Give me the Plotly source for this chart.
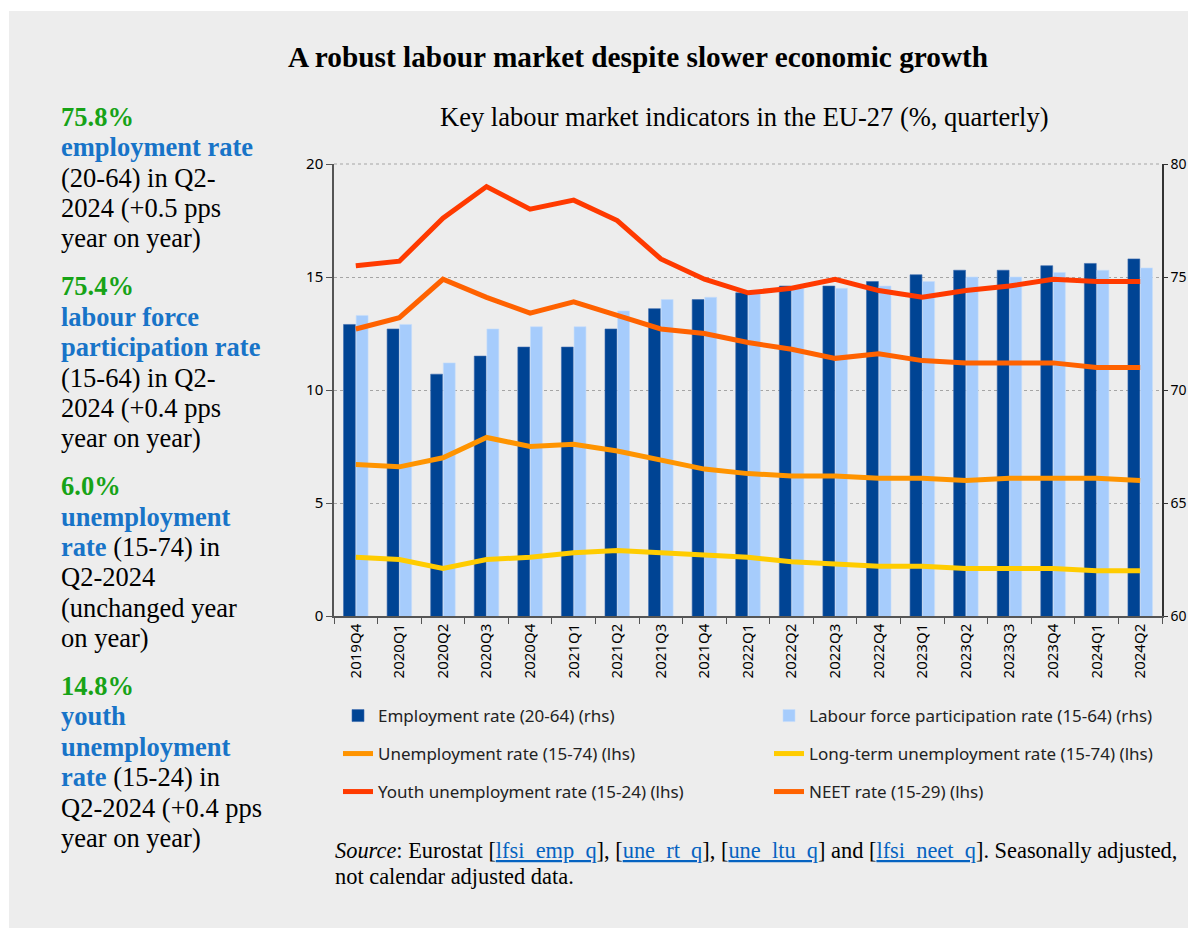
import plotly.graph_objects as go

quarters = ["2019Q4", "2020Q1", "2020Q2", "2020Q3", "2020Q4", "2021Q1", "2021Q2", "2021Q3",
            "2021Q4", "2022Q1", "2022Q2", "2022Q3", "2022Q4", "2023Q1", "2023Q2", "2023Q3",
            "2023Q4", "2024Q1", "2024Q2"]
employment = [72.9, 72.7, 70.7, 71.5, 71.9, 71.9, 72.7, 73.6, 74.0, 74.3, 74.6, 74.6, 74.8,
              75.1, 75.3, 75.3, 75.5, 75.6, 75.8]
participation = [73.3, 72.9, 71.2, 72.7, 72.8, 72.8, 73.5, 74.0, 74.1, 74.3, 74.5, 74.5, 74.6,
                 74.8, 75.0, 75.0, 75.2, 75.3, 75.4]
unemployment = [6.7, 6.6, 7.0, 7.9, 7.5, 7.6, 7.3, 6.9, 6.5, 6.3, 6.2, 6.2, 6.1, 6.1, 6.0, 6.1,
                6.1, 6.1, 6.0]
long_term = [2.6, 2.5, 2.1, 2.5, 2.6, 2.8, 2.9, 2.8, 2.7, 2.6, 2.4, 2.3, 2.2, 2.2, 2.1, 2.1,
             2.1, 2.0, 2.0]
youth = [15.5, 15.7, 17.6, 19.0, 18.0, 18.4, 17.5, 15.8, 14.9, 14.3, 14.5, 14.9, 14.4, 14.1,
         14.4, 14.6, 14.9, 14.8, 14.8]
neet = [12.7, 13.2, 14.9, 14.1, 13.4, 13.9, 13.3, 12.7, 12.5, 12.1, 11.8, 11.4, 11.6, 11.3,
        11.2, 11.2, 11.2, 11.0, 11.0]

# page body has an 8px margin: the figure starts at (8, 8) in the window
OFF = 8
W, H = 1196 - 2 * OFF, 936 - 2 * OFF
L = 334 - OFF
R = OFF + W - 1162
T = 164 - OFF
B = OFF + H - 616
PW, PH = W - L - R, H - T - B


def px(x):
    return (x - OFF - L) / PW


def py(y):
    return (616 - y) / PH


def cx(x):
    return (x - OFF) / W


SANS = "Noto Sans, Open Sans, sans-serif"
SERIF = "Liberation Serif, Times New Roman, serif"
GREEN = "#17A317"
BLUE = "#1874C8"

fig = go.Figure()
fig.add_trace(go.Bar(x=quarters, y=employment, name="Employment rate (20-64) (rhs)",
                     marker=dict(color="#004494", line=dict(color="#3A6AAE", width=0.6)),
                     yaxis="y", legend="legend"))
fig.add_trace(go.Bar(x=quarters, y=participation, name="Labour force participation rate (15-64) (rhs)",
                     marker=dict(color="#A6CCFC", line=dict(color="#C6DDFB", width=0.6)),
                     yaxis="y", legend="legend2"))
fig.add_trace(go.Scatter(x=quarters, y=unemployment, name="Unemployment rate (15-74) (lhs)",
                         mode="lines", line=dict(color="#FF9400", width=5), yaxis="y2",
                         legend="legend3"))
fig.add_trace(go.Scatter(x=quarters, y=long_term, name="Long-term unemployment rate (15-74) (lhs)",
                         mode="lines", line=dict(color="#FFCC00", width=5), yaxis="y2",
                         legend="legend4"))
fig.add_trace(go.Scatter(x=quarters, y=youth, name="Youth unemployment rate (15-24) (lhs)",
                         mode="lines", line=dict(color="#FF3A00", width=5), yaxis="y2",
                         legend="legend5"))
fig.add_trace(go.Scatter(x=quarters, y=neet, name="NEET rate (15-29) (lhs)",
                         mode="lines", line=dict(color="#FF6200", width=5), yaxis="y2",
                         legend="legend6"))
for tr in fig.data:
    tr.showlegend = True


def leg(x, y):
    return dict(orientation="h", xref="container", x=cx(x), xanchor="left",
                yanchor="middle", y=py(y), bgcolor="rgba(0,0,0,0)",
                font=dict(family=SANS, size=17, color="#222222"), itemwidth=30,
                visible=True)


annotations = []
annotations.append(dict(text="<b>A robust labour market despite slower economic growth</b>",
                        x=px(638), y=py(57), xref="paper", yref="paper", showarrow=False,
                        xanchor="center", yanchor="middle",
                        font=dict(family=SERIF, size=29.3, color="#000000")))
annotations.append(dict(text="Key labour market indicators in the EU-27 (%, quarterly)",
                        x=px(744), y=py(117), xref="paper", yref="paper", showarrow=False,
                        xanchor="center", yanchor="middle",
                        font=dict(family=SERIF, size=26.5, color="#000000")))


def g(t):
    return f"<b><span style='color:{GREEN}'>{t}</span></b>"


def bl(t):
    return f"<b><span style='color:{BLUE}'>{t}</span></b>"


side_lines = [
    (117, g("75.8%")), (147, bl("employment rate")), (178, "(20-64) in Q2-"),
    (208, "2024 (+0.5 pps"), (238, "year on year)"),
    (286, g("75.4%")), (317, bl("labour force")), (347, bl("participation rate")),
    (378, "(15-64) in Q2-"), (408, "2024 (+0.4 pps"), (438, "year on year)"),
    (486, g("6.0%")), (517, bl("unemployment")), (547, bl("rate") + " (15-74) in"),
    (577, "Q2-2024"), (608, "(unchanged year"), (638, "on year)"),
    (686, g("14.8%")), (716, bl("youth")), (747, bl("unemployment")),
    (777, bl("rate") + " (15-24) in"), (808, "Q2-2024 (+0.4 pps"), (838, "year on year)"),
]
for yy, txt in side_lines:
    annotations.append(dict(text=txt, x=px(59), y=py(yy), xref="paper", yref="paper",
                            showarrow=False, xanchor="left", yanchor="middle",
                            font=dict(family=SERIF, size=26.5, color="#000000")))

LINK = "#0563C1"


def lk(t):
    return f"<span style='color:{LINK}'><u>{t}</u></span>"


src1 = ("<i>Source</i>: Eurostat [" + lk("lfsi_emp_q") + "], [" + lk("une_rt_q") + "], ["
        + lk("une_ltu_q") + "] and [" + lk("lfsi_neet_q") + "]. Seasonally adjusted,")
src2 = "not calendar adjusted data."
for yy, txt in [(850, src1), (877, src2)]:
    annotations.append(dict(text=txt, x=px(333), y=py(yy), xref="paper", yref="paper",
                            showarrow=False, xanchor="left", yanchor="middle",
                            font=dict(family=SERIF, size=22.4, color="#000000")))

fig.update_layout(
    width=W, height=H,
    showlegend=True,
    margin=dict(l=L, r=R, t=T, b=B, pad=0, autoexpand=False),
    paper_bgcolor="#FFFFFF",
    plot_bgcolor="rgba(0,0,0,0)",
    barmode="group", bargap=0.42, bargroupgap=0.06,
    shapes=[
        dict(type="rect", xref="paper", yref="paper", x0=px(9), x1=px(1200),
             y0=py(940), y1=py(11), fillcolor="#EDEDED", line=dict(width=0), layer="below"),
        dict(type="line", xref="paper", yref="paper", x0=0, x1=1, y0=1, y1=1,
             line=dict(color="#A5A5A5", width=1, dash="dot"), layer="below"),
    ],
    xaxis=dict(type="category", tickangle=-90, ticks="outside", tickson="boundaries",
               ticklen=6, tickcolor="#555555", showline=True, linecolor="#555555",
               linewidth=1.5, showgrid=False,
               tickfont=dict(family=SANS, size=15, color="#000000")),
    yaxis=dict(range=[60, 80], side="right", dtick=5, tick0=60, showline=True,
               linecolor="#333333", linewidth=1.5, ticks="outside", ticklen=4,
               tickcolor="#333333", showgrid=True, gridcolor="#A5A5A5", griddash="dot",
               gridwidth=1, zeroline=False,
               tickfont=dict(family=SANS, size=14, color="#000000")),
    yaxis2=dict(range=[0, 20], side="left", overlaying="y", dtick=5, tick0=0, showline=True,
                linecolor="#555555", linewidth=1.5, ticks="outside", ticklen=6,
                tickcolor="#555555", showgrid=False, zeroline=False,
                tickfont=dict(family=SANS, size=15, color="#000000")),
    legend=leg(338, 716),
    legend2=leg(769, 716),
    legend3=leg(338, 754),
    legend4=leg(769, 754),
    legend5=leg(338, 792),
    legend6=leg(769, 792),
    annotations=annotations,
)

fig.write_html("out.html")
